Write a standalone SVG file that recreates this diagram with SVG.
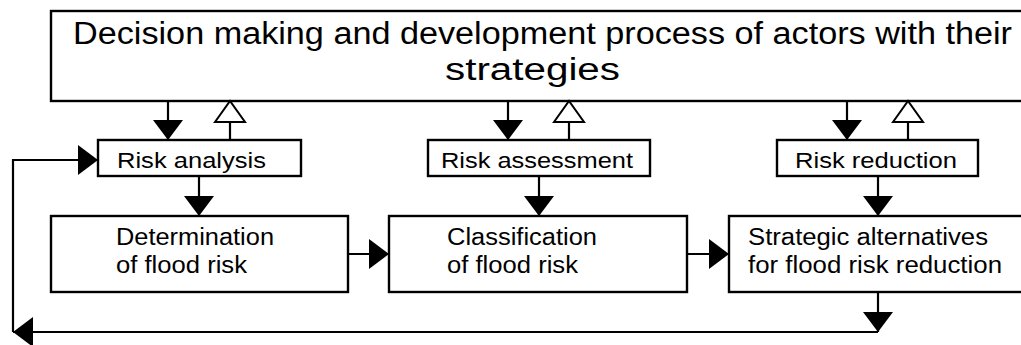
<svg xmlns="http://www.w3.org/2000/svg" width="1021" height="345" viewBox="0 0 1021 345">
<style>
.box{fill:#fff;stroke:#000;stroke-width:2.4}
.ln{fill:none;stroke:#000;stroke-width:2.2}
text{font-family:"Liberation Sans",Arial,sans-serif;fill:#000}
.t1{font-size:31px}
.t2{font-size:21.5px}
.t3{font-size:23.5px}
</style>
<defs>
<marker id="fa" markerUnits="userSpaceOnUse" markerWidth="20" markerHeight="30" viewBox="0 0 20 30" refX="20" refY="15" orient="auto" overflow="visible"><path d="M0,0 L20,15 L0,30 z" fill="#000"/></marker>
<marker id="oa" markerUnits="userSpaceOnUse" markerWidth="21" markerHeight="30" viewBox="0 0 21 30" refX="21" refY="15" orient="auto" overflow="visible"><path d="M0,0 L21,15 L0,30 z" fill="#fff" stroke="#000" stroke-width="2"/></marker>
</defs>
<rect width="1021" height="345" fill="#fff"/>
<g id="decision">
<rect class="box" x="51" y="11" width="990" height="90"/>
<text class="t1" x="73" y="44" textLength="939" lengthAdjust="spacingAndGlyphs">Decision making and development process of actors with their</text>
<text class="t1" x="445" y="80" textLength="175" lengthAdjust="spacingAndGlyphs">strategies</text>
</g>
<g id="risk-analysis">
<rect class="box" x="98" y="140" width="203" height="36"/>
<text class="t2" x="117" y="168" textLength="149" lengthAdjust="spacingAndGlyphs">Risk analysis</text>
</g>
<g id="risk-assessment">
<rect class="box" x="428" y="140" width="222" height="36"/>
<text class="t2" x="441" y="168" textLength="192" lengthAdjust="spacingAndGlyphs">Risk assessment</text>
</g>
<g id="risk-reduction">
<rect class="box" x="777" y="140" width="201" height="36"/>
<text class="t2" x="795" y="168" textLength="162" lengthAdjust="spacingAndGlyphs">Risk reduction</text>
</g>
<g id="determination">
<rect class="box" x="51" y="216" width="297" height="76"/>
<text class="t3" x="116" y="245" textLength="158" lengthAdjust="spacingAndGlyphs">Determination</text>
<text class="t3" x="116" y="273" textLength="131" lengthAdjust="spacingAndGlyphs">of flood risk</text>
</g>
<g id="classification">
<rect class="box" x="389" y="216" width="298" height="76"/>
<text class="t3" x="447" y="245" textLength="150" lengthAdjust="spacingAndGlyphs">Classification</text>
<text class="t3" x="447" y="273" textLength="131" lengthAdjust="spacingAndGlyphs">of flood risk</text>
</g>
<g id="strategic">
<rect class="box" x="729" y="216" width="310" height="76"/>
<text class="t3" x="748" y="245" textLength="240" lengthAdjust="spacingAndGlyphs">Strategic alternatives</text>
<text class="t3" x="748" y="273" textLength="254" lengthAdjust="spacingAndGlyphs">for flood risk reduction</text>
</g>
<g id="connectors">
<path class="ln" d="M168,101 V140" marker-end="url(#fa)"/>
<path class="ln" d="M230,140 V101" marker-end="url(#oa)"/>
<path class="ln" d="M508,101 V140" marker-end="url(#fa)"/>
<path class="ln" d="M569,140 V101" marker-end="url(#oa)"/>
<path class="ln" d="M847,101 V140" marker-end="url(#fa)"/>
<path class="ln" d="M908,140 V101" marker-end="url(#oa)"/>
<path class="ln" d="M199,176 V216" marker-end="url(#fa)"/>
<path class="ln" d="M539,176 V216" marker-end="url(#fa)"/>
<path class="ln" d="M878,176 V216" marker-end="url(#fa)"/>
<path class="ln" d="M348,254 H389" marker-end="url(#fa)"/>
<path class="ln" d="M687,254 H729" marker-end="url(#fa)"/>
<path class="ln" d="M878,292 V332" marker-end="url(#fa)"/>
<path class="ln" d="M878,332 H13" marker-end="url(#fa)"/>
<path class="ln" d="M13,332 V160 H98" marker-end="url(#fa)"/>
</g>
</svg>
